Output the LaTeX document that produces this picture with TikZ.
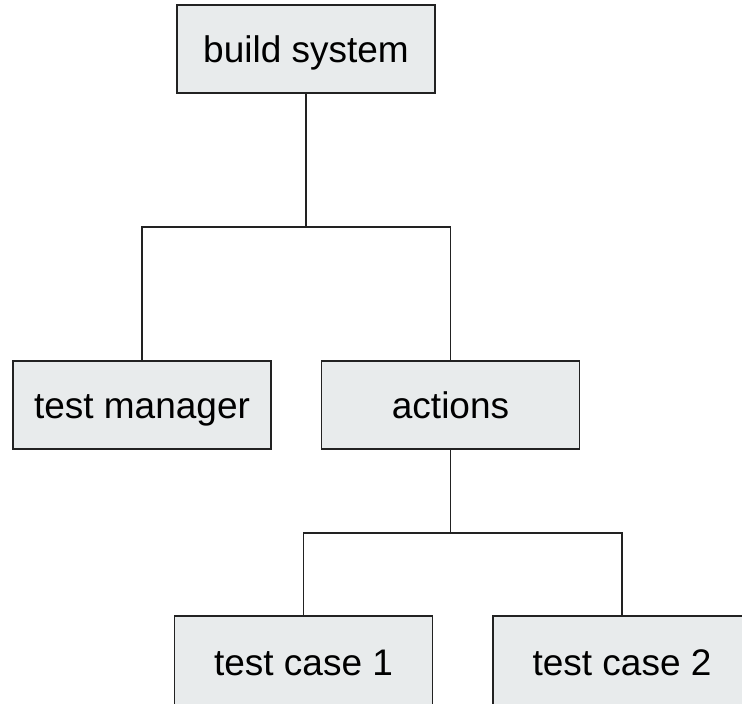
\documentclass[tikz,border=0pt]{standalone}
\usepackage{fontspec}
\setmainfont{Liberation Sans}
\usepackage{tikz}

\definecolor{boxfill}{HTML}{E8EBEC}
\definecolor{boxline}{HTML}{222222}

\tikzset{
    block/.style={draw=boxline, fill=boxfill, line width=0.85pt,
        minimum width=129pt, minimum height=44pt, inner sep=0pt,
        text height=18.5pt, text depth=4.5pt,
        font=\fontsize{18.5pt}{22pt}\selectfont},
    cutblock/.style={block, minimum height=45pt},
    link/.style={draw=boxline, line width=0.75pt}
}

\begin{document}
\begin{tikzpicture}[x=0.5pt, y=-0.5pt]

        \useasboundingbox
            (0,0) rectangle (742,704);

        \node[block] (build) at (306,49) {build system};
        \node[block] (manager) at (142,405) {test manager};
        \node[block] (actions) at (450.5,405) {actions};
        \node[cutblock] (case1) at (303.5,661) {test case 1};
        \node[cutblock] (case2) at (622,661) {test case 2};

        \coordinate (split1) at (306,227);
        \coordinate (split2) at (450.5,533);

        \draw[link]
            (build.south) -- (split1) -| (manager.north)
            (split1) -| (actions.north);

        \draw[link]
            (actions.south) -- (split2) -| (case1.north)
            (split2) -| (case2.north);

    \end{tikzpicture}
\end{document}
